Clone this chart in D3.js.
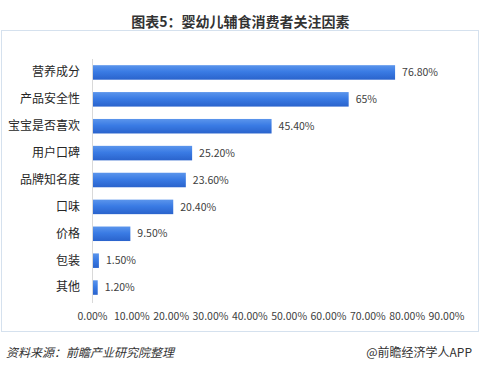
<!DOCTYPE html>
<html lang="zh">
<head>
  <meta charset="UTF-8">
  <title>图表5</title>
  <script src="https://d3js.org/d3.v7.min.js"></script>
  <style>
    body { margin: 0; background: #fff; }
    text { font-family: "Microsoft YaHei", "Noto Sans CJK SC", sans-serif; }
  </style>
</head>
<body>
  <script>
    // data
    var categories = ["营养成分", "产品安全性", "宝宝是否喜欢", "用户口碑", "品牌知名度", "口味", "价格", "包装", "其他"];
    var values = [76.8, 65, 45.4, 25.2, 23.6, 20.4, 9.5, 1.5, 1.2];
    var valueLabels = ["76.80%", "65%", "45.40%", "25.20%", "23.60%", "20.40%", "9.50%", "1.50%", "1.20%"];
    var ticks = [0, 10, 20, 30, 40, 50, 60, 70, 80, 90];

    var W = 481, H = 372;
    var margin = { top: 59, left: 92, right: 33, bottom: 70 };

    var svg = d3.select("body").append("svg")
      .attr("width", W)
      .attr("height", H);

    var defs = svg.append("defs");
    var grad = defs.append("linearGradient")
      .attr("id", "barGrad")
      .attr("x1", 0).attr("y1", 0).attr("x2", 0).attr("y2", 1);
    grad.append("stop").attr("offset", "0%").attr("stop-color", "#5b95ec");
    grad.append("stop").attr("offset", "45%").attr("stop-color", "#3a7be4");
    grad.append("stop").attr("offset", "100%").attr("stop-color", "#2a63cc");

    // title
    svg.append("text")
      .attr("x", W / 2)
      .attr("y", 27)
      .attr("text-anchor", "middle")
      .style("font-size", "14px")
      .style("font-weight", "bold")
      .style("fill", "#333")
      .text("图表5：婴幼儿辅食消费者关注因素");

    // frame
    svg.append("rect")
      .attr("x", 1.5).attr("y", 30.5)
      .attr("width", 477).attr("height", 301)
      .attr("fill", "none")
      .attr("stroke", "#d5e1ee")
      .attr("stroke-width", 1);

    var x = d3.scaleLinear().domain([0, 90]).range([margin.left, 446]);
    var y = d3.scaleBand().domain(categories).range([margin.top, 301]).paddingInner(0.46).paddingOuter(0.23);

    // bars
    svg.selectAll(".bar")
      .data(values)
      .enter()
      .append("rect")
      .attr("class", "bar")
      .attr("x", x(0) + 1)
      .attr("y", function (d, i) { return y(categories[i]); })
      .attr("width", function (d) { return x(d) - x(0); })
      .attr("height", y.bandwidth())
      .attr("fill", "url(#barGrad)");

    // value labels
    svg.selectAll(".val")
      .data(values)
      .enter()
      .append("text")
      .attr("x", function (d) { return x(d) + 8; })
      .attr("y", function (d, i) { return y(categories[i]) + y.bandwidth() / 2; })
      .attr("dy", "0.35em")
      .style("font-size", "10.5px")
      .style("fill", "#404040")
      .text(function (d, i) { return valueLabels[i]; });

    // y axis
    var yAxis = svg.append("g")
      .attr("transform", "translate(" + margin.left + ",0)")
      .call(d3.axisLeft(y).tickSize(0).tickPadding(12));
    yAxis.select(".domain").attr("stroke", "#d9d9d9").attr("d", "M0.5,59V303");
    yAxis.selectAll("text")
      .style("font-size", "12px")
      .style("fill", "#262626")
      .style("font-family", "'Microsoft YaHei', 'Noto Sans CJK SC', sans-serif");

    // x axis (labels only)
    var xAxis = svg.append("g")
      .attr("transform", "translate(0,303)")
      .call(d3.axisBottom(x).tickValues(ticks).tickSize(0).tickPadding(10)
        .tickFormat(function (d) { return d.toFixed(2) + "%"; }));
    xAxis.select(".domain").remove();
    xAxis.selectAll("text")
      .style("font-size", "10.5px")
      .style("fill", "#404040")
      .style("font-family", "'Microsoft YaHei', 'Noto Sans CJK SC', sans-serif");

    // footer
    svg.append("text")
      .attr("x", 6)
      .attr("y", 357)
      .style("font-size", "12px")
      .style("font-style", "italic")
      .style("fill", "#333")
      .text("资料来源：前瞻产业研究院整理");

    svg.append("text")
      .attr("x", 472)
      .attr("y", 357)
      .attr("text-anchor", "end")
      .style("font-size", "12px")
      .style("fill", "#333")
      .text("@前瞻经济学人APP");
  </script>
</body>
</html>
